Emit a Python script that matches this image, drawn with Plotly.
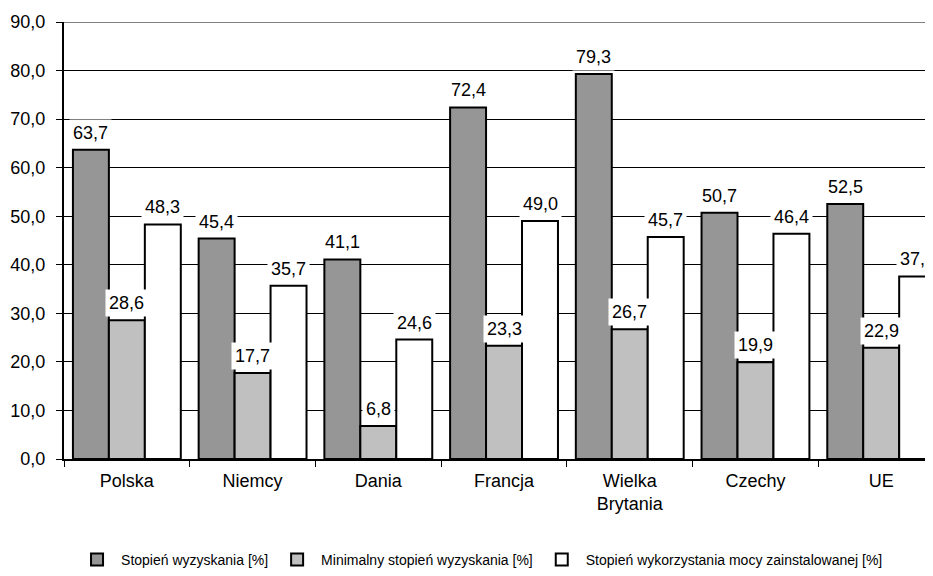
import plotly.graph_objects as go

categories = ["Polska", "Niemcy", "Dania", "Francja", "Wielka<br>Brytania", "Czechy", "UE"]
series_names = [
    "Stopień wyzyskania [%]",
    "Minimalny stopień wyzyskania [%]",
    "Stopień wykorzystania mocy zainstalowanej [%]",
]
stopien_wyzyskania = [63.7, 45.4, 41.1, 72.4, 79.3, 50.7, 52.5]
minimalny_stopien = [28.6, 17.7, 6.8, 23.3, 26.7, 19.9, 22.9]
wykorzystanie_mocy = [48.3, 35.7, 24.6, 49.0, 45.7, 46.4, 37.6]
y_ticks = [0, 10, 20, 30, 40, 50, 60, 70, 80, 90]

series_values = [stopien_wyzyskania, minimalny_stopien, wykorzystanie_mocy]
colors = ["#969696", "#c0c0c0", "#ffffff"]
shifts = [-36, 0, 36]

FONT = "Arial, Liberation Sans, sans-serif"

fig = go.Figure()
for name, vals, col in zip(series_names, series_values, colors):
    fig.add_trace(go.Bar(
        x=categories, y=vals, name=name,
        marker=dict(color=col, line=dict(color="black", width=2)),
    ))

for vals, sh in zip(series_values, shifts):
    for c, v in zip(categories, vals):
        fig.add_annotation(
            x=c, y=v, xref="x", yref="y", xshift=sh, yshift=3,
            text=f"{v:.1f}".replace(".", ","), showarrow=False,
            yanchor="bottom", bgcolor="white", borderpad=3,
            font=dict(family=FONT, size=18, color="black"),
        )

# grey top border line at the maximum tick
fig.add_hline(y=y_ticks[-1], line_color="#808080", line_width=2)

# the page body has an 8px margin; the figure is sized to fit the window
fig.update_layout(
    width=925, height=568,
    margin=dict(l=56, r=0, t=14, b=117),
    paper_bgcolor="white", plot_bgcolor="white",
    separators=", ",
    barmode="group", bargap=0.142, bargroupgap=0,
    font=dict(family=FONT, size=18, color="black"),
    showlegend=True,
    legend=dict(
        orientation="h", x=0.0104, xanchor="left", y=-0.2677, yanchor="bottom",
        font=dict(family=FONT, size=14, color="black"),
        itemwidth=38, traceorder="normal",
    ),
)
fig.update_xaxes(
    range=[-0.5, 6.412], showgrid=False, automargin=False,
    showline=True, linecolor="black", linewidth=2,
    ticks="outside", tickson="boundaries", ticklen=6, tickcolor="black",
    ticklabelstandoff=4,
    tickfont=dict(family=FONT, size=18, color="black"),
)
fig.update_yaxes(
    range=[0, 90], tickvals=y_ticks, tickformat=".1f", automargin=False,
    showgrid=True, gridcolor="black", gridwidth=1,
    showline=True, linecolor="black", linewidth=2,
    ticks="outside", ticklen=6, tickcolor="black",
    ticklabelstandoff=7,
    tickfont=dict(family=FONT, size=18, color="black"),
    zeroline=False,
)

fig.write_html("out.html")
